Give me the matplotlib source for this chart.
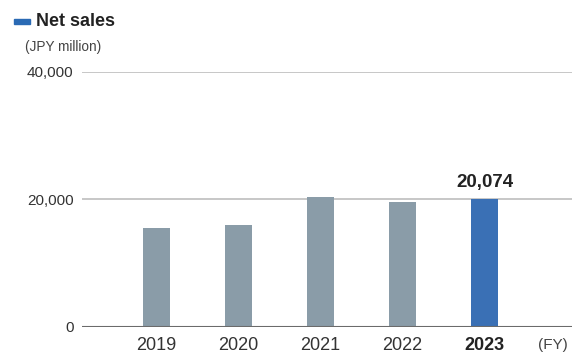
import matplotlib.pyplot as plt
from matplotlib.patches import Rectangle

plt.rcParams['font.family'] = ['Liberation Sans', 'DejaVu Sans']

years = ['2019', '2020', '2021', '2022', '2023']
net_sales = [15500, 15970, 20360, 19580, 20074]
bar_colors = ['#8a9ca8', '#8a9ca8', '#8a9ca8', '#8a9ca8', '#3a70b5']

W, H = 572, 354
fig = plt.figure(figsize=(W / 100, H / 100), dpi=100)
# axes box in pixel coords: x 82..572, y 0 at 327, 40000 at 71.6
ax = fig.add_axes([82 / W, 1 - 327 / H, (572 - 82) / W, (327 - 71.6) / H])

x = range(len(years))
ax.bar(x, net_sales, width=0.33, color=bar_colors, zorder=3)
ax.set_xlim(-0.909, 5.067)
ax.set_ylim(0, 40000)

# gridlines and baseline
for v in [20000, 40000]:
    ax.axhline(v, color='#bdbdbd', lw=1.2, zorder=1)
ax.axhline(0, color='#6b6b6b', lw=1.5, zorder=4)

for s in ax.spines.values():
    s.set_visible(False)
ax.set_yticks([0, 20000, 40000])
ax.set_yticklabels(['0', '20,000', '40,000'], fontsize=11, color='#333333')
ax.set_xticks(list(x))
ax.set_xticklabels(years, fontsize=13, color='#333333')
ax.get_xticklabels()[-1].set_fontweight('bold')
ax.get_xticklabels()[-1].set_color('#222222')
ax.tick_params(length=0, pad=6, axis='y')
ax.tick_params(length=0, pad=7.5, axis='x')

# value label on latest year
ax.text(4, net_sales[-1] + 1250, '20,074', ha='center', va='bottom',
        fontsize=13.5, fontweight='bold', color='#222222')

# title and unit
fig.patches.append(Rectangle((14 / W, 1 - 24 / H), 16 / W, 5 / H,
                             transform=fig.transFigure, color='#2a6ab4'))
fig.text(36 / W, 1 - 21 / H, 'Net sales', fontsize=13, fontweight='bold',
         color='#222222', va='center')
fig.text(25 / W, 1 - 47 / H, '(JPY million)', fontsize=9.8, color='#444444', va='center')
fig.text(553 / W, 1 - 345 / H, '(FY)', fontsize=11, color='#444444', ha='center', va='center')

fig.savefig('out.png', dpi=100)
